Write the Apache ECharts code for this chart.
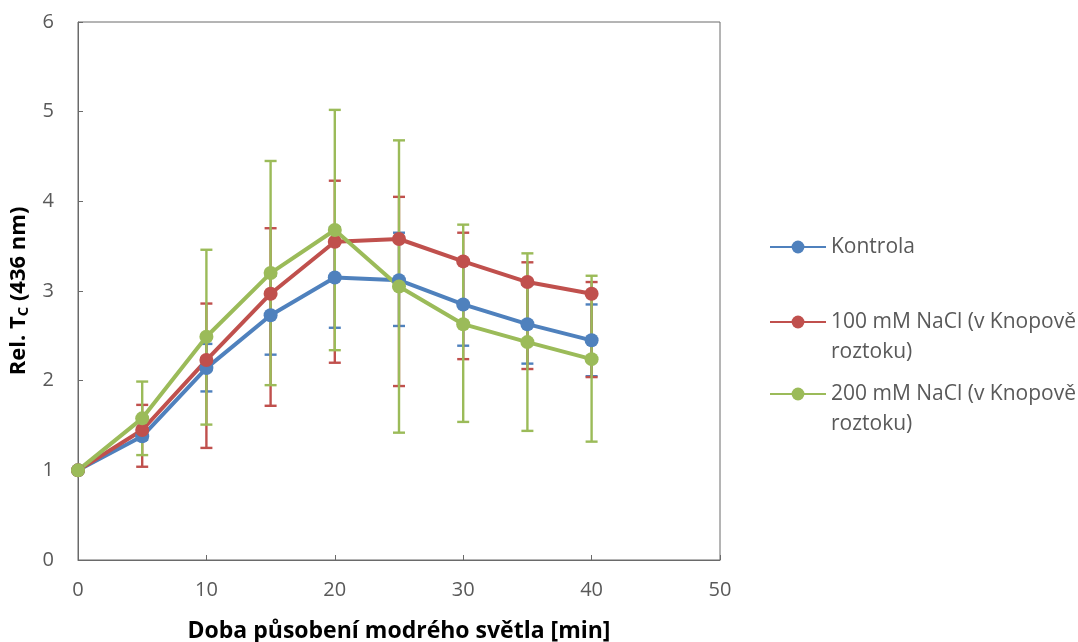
<!DOCTYPE html>
<html>
<head>
<meta charset="utf-8">
<script src="https://cdn.jsdelivr.net/npm/echarts@6/dist/echarts.min.js"></script>
<style>
  html, body { margin: 0; padding: 0; background: #fff; }
  #chart { width: 1078px; height: 642px; }
</style>
</head>
<body>
<div id="chart"></div>
<script>
// time points [min]
const times = [0, 5, 10, 15, 20, 25, 30, 35, 40];

// Kontrola
const kontrola = [1, 1.38, 2.14, 2.73, 3.15, 3.12, 2.85, 2.63, 2.45];
const kontrolaLow = [1, 1.34, 1.88, 2.29, 2.59, 2.61, 2.39, 2.19, 2.05];
const kontrolaHigh = [1, 1.42, 2.41, 3.17, 3.71, 3.65, 3.31, 3.07, 2.85];

// 100 mM NaCl
const nacl100 = [1, 1.45, 2.23, 2.97, 3.55, 3.58, 3.33, 3.10, 2.97];
const nacl100Low = [1, 1.04, 1.25, 1.72, 2.20, 1.94, 2.24, 2.13, 2.04];
const nacl100High = [1, 1.73, 2.86, 3.70, 4.23, 4.05, 3.65, 3.32, 3.10];

// 200 mM NaCl
const nacl200 = [1, 1.58, 2.49, 3.20, 3.68, 3.05, 2.63, 2.43, 2.24];
const nacl200Low = [1, 1.17, 1.51, 1.95, 2.34, 1.42, 1.54, 1.44, 1.32];
const nacl200High = [1, 1.99, 3.46, 4.45, 5.02, 4.68, 3.74, 3.42, 3.17];

const names = ["Kontrola", "100 mM NaCl (v Knopově\nroztoku)", "200 mM NaCl (v Knopově\nroztoku)"];
const colors = ["#4f81bd", "#c0504d", "#9bbb59"];
const font = "'Open Sans', sans-serif";

function pairs(ys) {
  return times.map((t, i) => [t, ys[i]]);
}

function errData(low, high) {
  return times.map((t, i) => [t, low[i], high[i]]);
}

function errSeries(name, low, high, color) {
  return {
    type: "custom",
    name: name,
    z: 1,
    data: errData(low, high),
    encode: { x: 0, y: [1, 2] },
    renderItem: function (params, api) {
      const lo = api.coord([api.value(0), api.value(1)]);
      const hi = api.coord([api.value(0), api.value(2)]);
      const w = 6;
      const style = { stroke: color, lineWidth: 2.4 };
      return {
        type: "group",
        children: [
          { type: "line", shape: { x1: lo[0], y1: lo[1], x2: hi[0], y2: hi[1] }, style: style },
          { type: "line", shape: { x1: lo[0] - w, y1: lo[1], x2: lo[0] + w, y2: lo[1] }, style: style },
          { type: "line", shape: { x1: hi[0] - w, y1: hi[1], x2: hi[0] + w, y2: hi[1] }, style: style },
        ],
      };
    },
  };
}

function lineSeries(name, ys, color) {
  return {
    type: "line",
    name: name,
    z: 3,
    data: pairs(ys),
    symbol: "circle",
    symbolSize: 14,
    lineStyle: { color: color, width: 4 },
    itemStyle: { color: color },
  };
}

// one legend per entry so each can sit exactly; a leading blank line keeps
// the icon level with the first line of a two-line label
function legendAt(name, top) {
  return {
    data: [name],
    orient: "vertical",
    left: 769,
    top: top,
    padding: 0,
    itemWidth: 56,
    itemHeight: 16,
    formatter: (n) => (n.indexOf("\n") >= 0 ? "\n" + n : n),
    textStyle: {
      color: "#595959",
      fontSize: 21,
      fontFamily: font,
      lineHeight: 30,
    },
  };
}

const chart = echarts.init(document.getElementById("chart"));

chart.setOption({
  backgroundColor: "#fff",
  animation: false,
  grid: {
    left: 78,
    top: 22,
    right: 358,
    bottom: 82,
    outerBoundsMode: "none",
    show: true,
    borderColor: "#6a6a6a",
    borderWidth: 1,
  },
  legend: [
    legendAt(names[0], 232),
    legendAt(names[1], 277),
    legendAt(names[2], 349),
  ],
  xAxis: {
    type: "value",
    min: 0,
    max: 50,
    interval: 10,
    name: "Doba působení modrého světla [min]",
    nameLocation: "middle",
    nameGap: 60,
    nameTextStyle: { color: "#000", fontSize: 23, fontWeight: "bold", fontFamily: font },
    splitLine: { show: false },
    axisLine: { lineStyle: { color: "#6a6a6a" } },
    axisTick: { inside: true, length: 5, lineStyle: { color: "#6a6a6a" } },
    axisLabel: { color: "#595959", fontSize: 20, fontFamily: font, margin: 20 },
  },
  yAxis: {
    type: "value",
    min: 0,
    max: 6,
    interval: 1,
    name: "{a|Rel. T}{b|C}{a| (436 nm)}",
    nameLocation: "middle",
    nameGap: 40,
    nameTextStyle: {
      rich: {
        a: { color: "#000", fontSize: 22, fontWeight: "bold", fontFamily: font, lineHeight: 26 },
        b: { color: "#000", fontSize: 15, fontWeight: "bold", fontFamily: font, verticalAlign: "bottom", lineHeight: 26, padding: [8, 0, 0, 0] },
      },
    },
    splitLine: { show: false },
    axisLine: { show: true, lineStyle: { color: "#6a6a6a" } },
    axisTick: { show: true, inside: true, length: 5, lineStyle: { color: "#6a6a6a" } },
    axisLabel: { color: "#595959", fontSize: 20, fontFamily: font, margin: 24 },
  },
  series: [
    errSeries("err0", kontrolaLow, kontrolaHigh, colors[0]),
    errSeries("err1", nacl100Low, nacl100High, colors[1]),
    errSeries("err2", nacl200Low, nacl200High, colors[2]),
    lineSeries(names[0], kontrola, colors[0]),
    lineSeries(names[1], nacl100, colors[1]),
    lineSeries(names[2], nacl200, colors[2]),
  ],
});
</script>
</body>
</html>
